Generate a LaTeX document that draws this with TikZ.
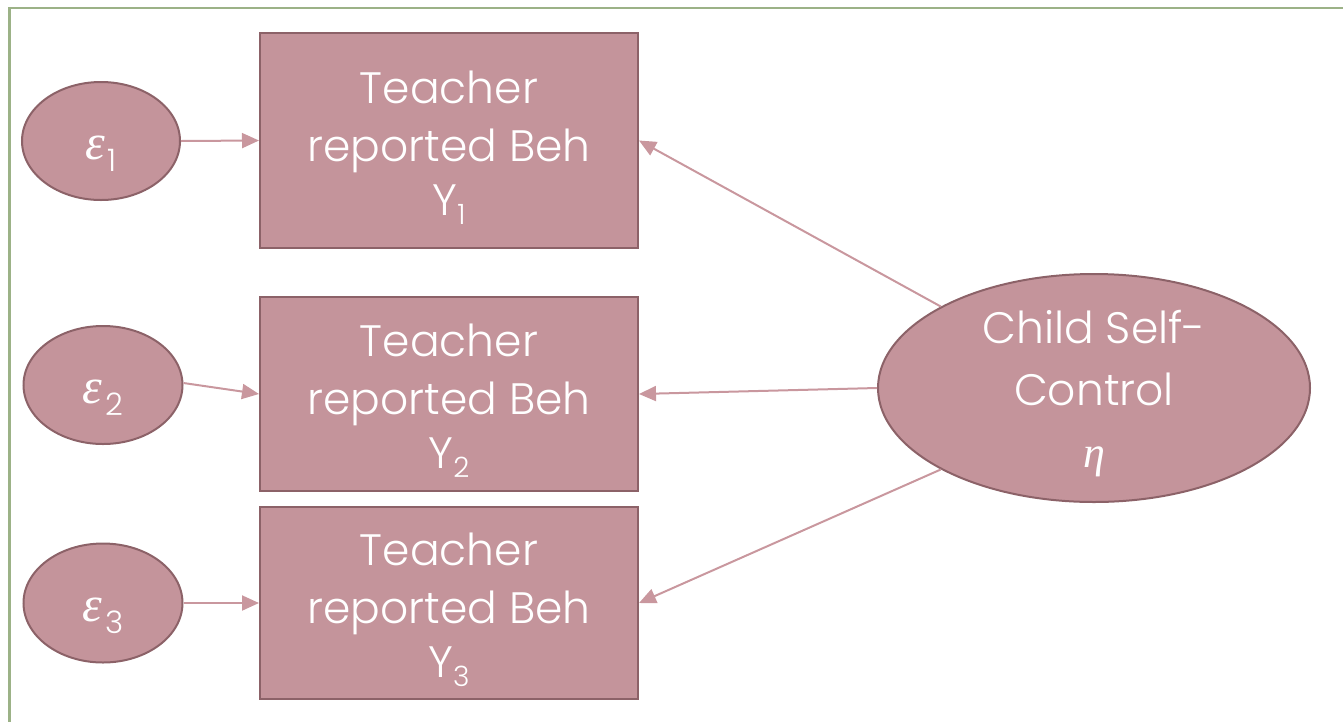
\documentclass[tikz,border=0pt]{standalone}
\usepackage{fontspec}
\setmainfont{Poppins Light}
\newfontfamily\grk{Liberation Serif}
\usetikzlibrary{shapes.geometric,arrows.meta}
\definecolor{rosefill}{HTML}{C4949B}
\definecolor{roseedge}{HTML}{8C6268}
\definecolor{roseline}{HTML}{C9979E}
\definecolor{sage}{HTML}{9CB287}
% lowered index; its depth is not counted in the node's height
\newcommand{\sub}[1]{\raisebox{-9pt}[0pt][0pt]{\fontsize{28}{28}\selectfont #1}}
\newcommand{\esub}[1]{\hspace{3pt}\raisebox{-12pt}[0pt][0pt]{\fontsize{31}{31}\selectfont #1}}
\newcommand{\eps}{{\grk\itshape\fontsize{50}{50}\selectfont ε}}
\begin{document}
\begin{tikzpicture}[x=1pt,y=-1pt,
  latent/.style={ellipse,draw=roseedge,line width=2pt,fill=rosefill,inner sep=0pt,
    text=white,font=\fontsize{44}{62}\selectfont},
  errterm/.style={latent,text height=36pt,text depth=0pt},
  observed/.style={rectangle,draw=roseedge,line width=2pt,fill=rosefill,inner sep=0pt,
    minimum width=378pt,text=white,align=center,font=\fontsize{44}{58}\selectfont},
  path/.style={draw=roseline,line width=2pt,-{Triangle[length=17pt,width=15pt]}}]
\useasboundingbox (0,0) rectangle (1343,721);
\clip (0,0) rectangle (1343,721);
\draw[sage,line width=2.5pt] (9.5,8) rectangle (1400,780);

% error terms
\node[errterm,minimum width=158pt,minimum height=118pt] (e1) at (101,141) {\eps\esub{1}};
\node[errterm,minimum width=159pt,minimum height=118pt] (e2) at (103,385) {\eps\esub{2}};
\node[errterm,minimum width=159pt,minimum height=119pt] (e3) at (103,603) {\eps\esub{3}};

% indicators
\node[observed,minimum height=215pt] (y1) at (449,140.5) {\rule{0pt}{37pt}Teacher\\reported Beh\\[-4pt]Y\sub{1}};
\node[observed,minimum height=194pt] (y2) at (449,394) {\rule{0pt}{37pt}Teacher\\reported Beh\\[-4pt]Y\sub{2}};
\node[observed,minimum height=192pt] (y3) at (449,603) {\rule{0pt}{37pt}Teacher\\reported Beh\\[-4pt]Y\sub{3}};

% latent factor
\node[latent,inner sep=-40pt,minimum width=432pt,minimum height=228pt,align=center] (eta) at (1094,388)
  {\rule{0pt}{45pt}Child Self-\\Control\\{\grk\itshape η}};

% paths
\draw[path] (e1.east) -- (y1.west);
\draw[path] (e2.east |- 0,383) -- (y2.west);
\draw[path] (e3.east) -- (y3.west);
\draw[path] (eta.152) -- (y1.east);
\draw[path] (eta.west) -- (y2.east);
\draw[path] (eta.208) -- (y3.east);
\end{tikzpicture}
\end{document}
